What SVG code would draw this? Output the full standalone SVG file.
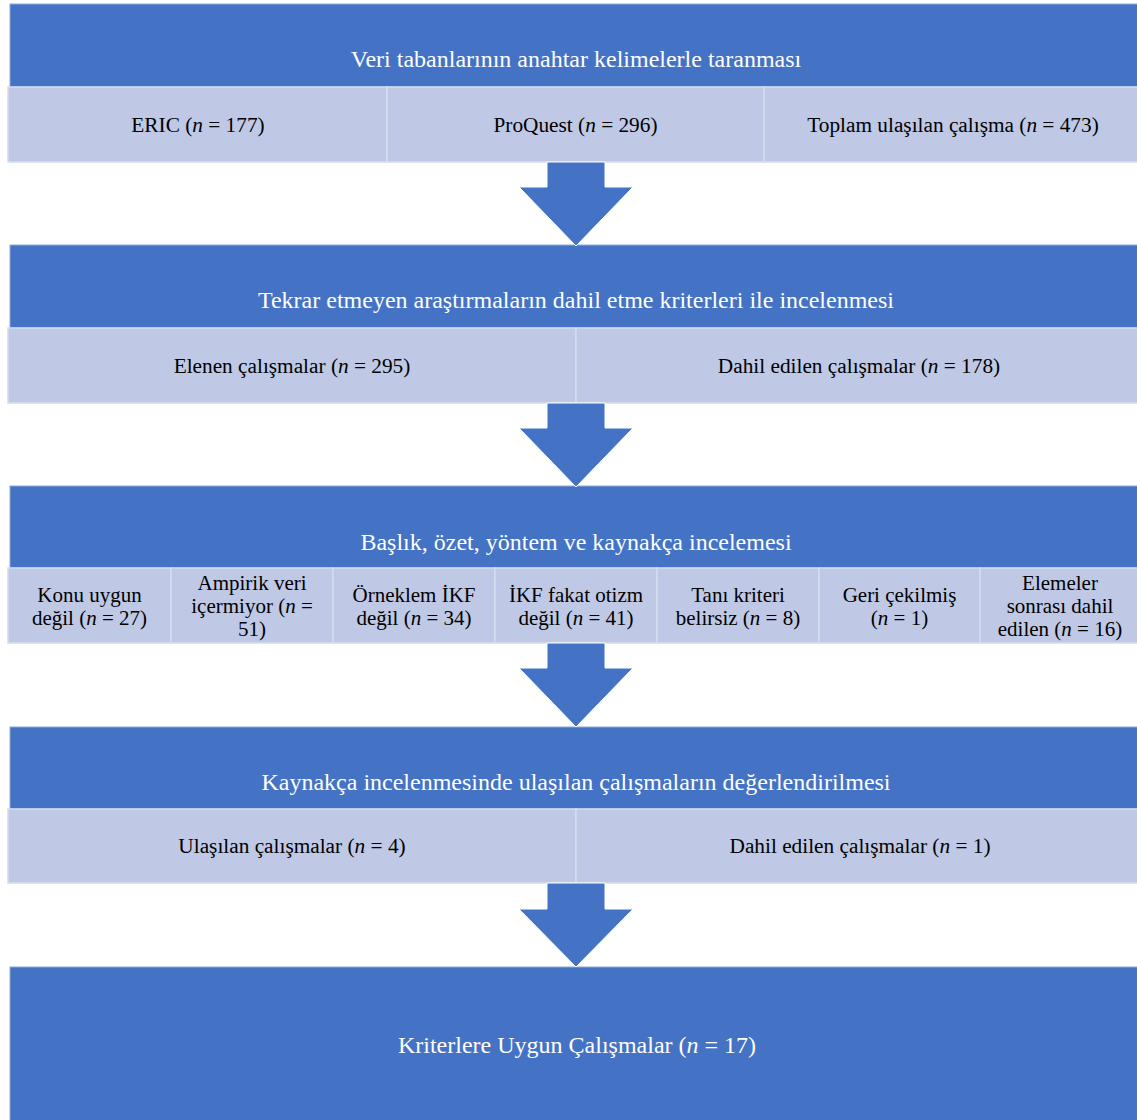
<svg xmlns="http://www.w3.org/2000/svg" width="1137" height="1120" viewBox="0 0 1137 1120">
<style>
.hdr{fill:#4472C4;stroke:#8EA9DB;stroke-width:1}
.cell{fill:#BFC9E5;stroke:#D6DCEE;stroke-width:1.5}
.arrow{fill:#4472C4;stroke:#FFFFFF;stroke-width:1}
.ht{font-family:"Liberation Serif","Times New Roman",serif;font-size:24px;fill:#FFFFFF;text-anchor:middle}
.ct{font-family:"Liberation Serif","Times New Roman",serif;font-size:21.3px;fill:#000000;text-anchor:middle}
.st{font-family:"Liberation Serif","Times New Roman",serif;font-size:21px;fill:#000000;text-anchor:middle}
.i{font-style:italic}
</style>
<rect width="1137" height="1120" fill="#FFFFFF"/>

<g id="stage1">
  <rect class="hdr" x="10" y="4" width="1137" height="83"/>
  <text class="ht" x="576" y="67">Veri tabanlarının anahtar kelimelerle taranması</text>
</g>
<g id="eric">
  <rect class="cell" x="8" y="87" width="379" height="75"/>
  <text class="ct" x="198" y="132">ERIC (<tspan class="i">n</tspan> = 177)</text>
</g>
<g id="proquest">
  <rect class="cell" x="387" y="87" width="377" height="75"/>
  <text class="ct" x="575.5" y="132">ProQuest (<tspan class="i">n</tspan> = 296)</text>
</g>
<g id="toplam">
  <rect class="cell" x="764" y="87" width="380" height="75"/>
  <text class="ct" x="953" y="132">Toplam ulaşılan çalışma (<tspan class="i">n</tspan> = 473)</text>
</g>

<g id="stage2">
  <rect class="hdr" x="10" y="245" width="1137" height="83"/>
  <text class="ht" x="576" y="308">Tekrar etmeyen araştırmaların dahil etme kriterleri ile incelenmesi</text>
</g>
<g id="elenen">
  <rect class="cell" x="8" y="328" width="568" height="75"/>
  <text class="ct" x="292" y="373">Elenen çalışmalar (<tspan class="i">n</tspan> = 295)</text>
</g>
<g id="dahil1">
  <rect class="cell" x="576" y="328" width="568" height="75"/>
  <text class="ct" x="859" y="373">Dahil edilen çalışmalar (<tspan class="i">n</tspan> = 178)</text>
</g>

<g id="stage3">
  <rect class="hdr" x="10" y="486" width="1137" height="82"/>
  <text class="ht" x="576" y="550">Başlık, özet, yöntem ve kaynakça incelemesi</text>
</g>
<g id="konu">
  <rect class="cell" x="8" y="568" width="163" height="75"/>
  <text class="st" x="89.5" y="602">Konu uygun</text>
  <text class="st" x="89.5" y="625">değil (<tspan class="i">n</tspan> = 27)</text>
</g>
<g id="ampirik">
  <rect class="cell" x="171" y="568" width="162" height="75"/>
  <text class="st" x="252" y="590">Ampirik veri</text>
  <text class="st" x="252" y="613">içermiyor (<tspan class="i">n</tspan> =</text>
  <text class="st" x="252" y="636">51)</text>
</g>
<g id="orneklem">
  <rect class="cell" x="333" y="568" width="162" height="75"/>
  <text class="st" x="414" y="602">Örneklem İKF</text>
  <text class="st" x="414" y="625">değil (<tspan class="i">n</tspan> = 34)</text>
</g>
<g id="ikf">
  <rect class="cell" x="495" y="568" width="162" height="75"/>
  <text class="st" x="576" y="602">İKF fakat otizm</text>
  <text class="st" x="576" y="625">değil (<tspan class="i">n</tspan> = 41)</text>
</g>
<g id="tani">
  <rect class="cell" x="657" y="568" width="162" height="75"/>
  <text class="st" x="738" y="602">Tanı kriteri</text>
  <text class="st" x="738" y="625">belirsiz (<tspan class="i">n</tspan> = 8)</text>
</g>
<g id="geri">
  <rect class="cell" x="819" y="568" width="161" height="75"/>
  <text class="st" x="899.5" y="602">Geri çekilmiş</text>
  <text class="st" x="899.5" y="625">(<tspan class="i">n</tspan> = 1)</text>
</g>
<g id="elemeler">
  <rect class="cell" x="980" y="568" width="164" height="75"/>
  <text class="st" x="1060" y="590">Elemeler</text>
  <text class="st" x="1060" y="613">sonrası dahil</text>
  <text class="st" x="1060" y="636">edilen (<tspan class="i">n</tspan> = 16)</text>
</g>

<g id="stage4">
  <rect class="hdr" x="10" y="727" width="1137" height="82"/>
  <text class="ht" x="576" y="790">Kaynakça incelenmesinde ulaşılan çalışmaların değerlendirilmesi</text>
</g>
<g id="ulasilan">
  <rect class="cell" x="8" y="809" width="568" height="74"/>
  <text class="ct" x="292" y="853">Ulaşılan çalışmalar (<tspan class="i">n</tspan> = 4)</text>
</g>
<g id="dahil2">
  <rect class="cell" x="576" y="809" width="568" height="74"/>
  <text class="ct" x="860" y="853">Dahil edilen çalışmalar (<tspan class="i">n</tspan> = 1)</text>
</g>

<g id="final">
  <rect class="hdr" x="10" y="967" width="1137" height="160"/>
  <text class="ht" x="577" y="1053">Kriterlere Uygun Çalışmalar (<tspan class="i">n</tspan> = 17)</text>
</g>

<g id="connectors">
  <polygon class="arrow" points="547,162 605,162 605,187 633,187 576,246 519,187 547,187"/>
  <polygon class="arrow" points="547,403 605,403 605,428 633,428 576,487 519,428 547,428"/>
  <polygon class="arrow" points="547,643 605,643 605,668 633,668 576,727 519,668 547,668"/>
  <polygon class="arrow" points="547,883 605,883 605,909 633,909 576,967 519,909 547,909"/>
</g>
</svg>
